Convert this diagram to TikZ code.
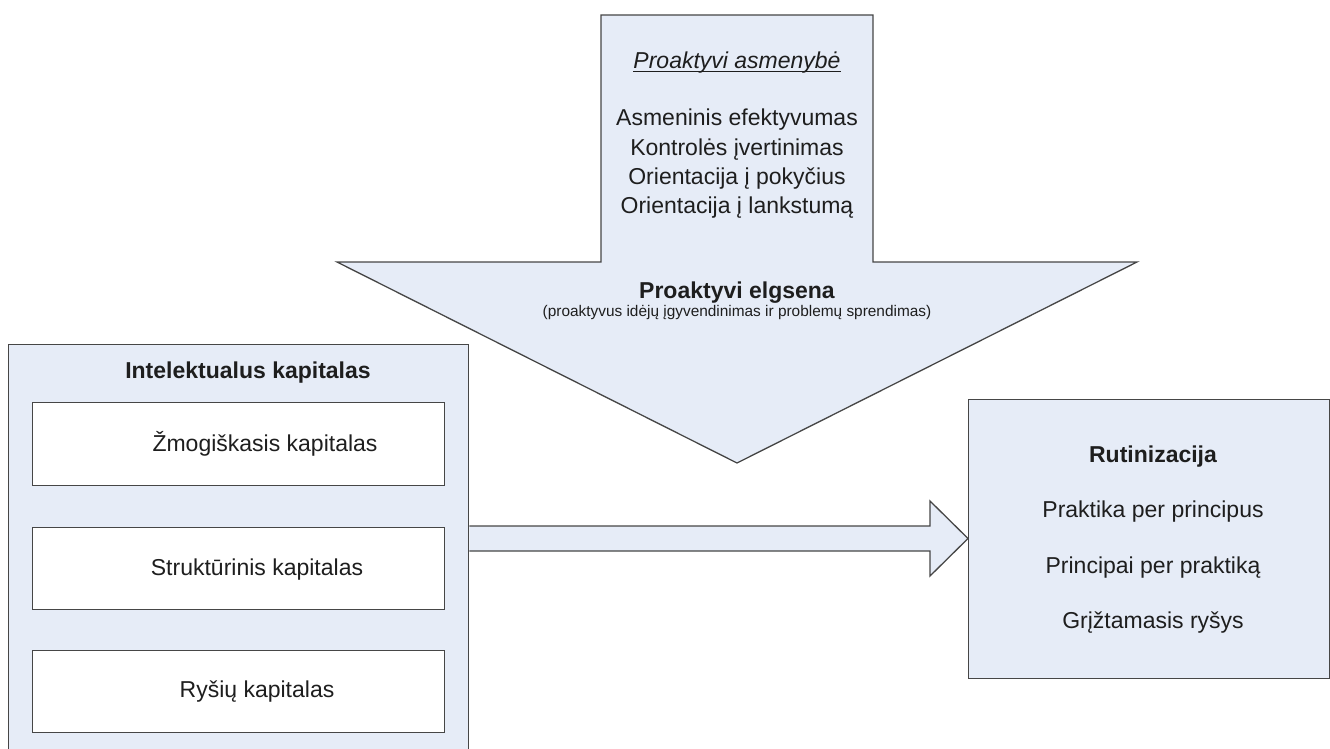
\documentclass[tikz,border=0pt]{standalone}
\usepackage{fontspec}
\setmainfont{Liberation Sans}
\usetikzlibrary{calc}
\definecolor{boxfill}{RGB}{230,236,247}
\definecolor{boxline}{RGB}{70,70,70}
\definecolor{ink}{RGB}{30,30,30}
\tikzset{
  panel/.style={draw=boxline, fill=boxfill, line width=1.3pt, inner sep=0pt, anchor=north west},
  subpanel/.style={draw=boxline, fill=white, line width=1.3pt, inner sep=0pt, anchor=north west},
  shapeline/.style={draw=boxline, fill=boxfill, line width=1.3pt, line join=miter},
  txt/.style={text=ink, inner sep=0pt, anchor=base, font=\fontsize{23}{28}\selectfont},
  smalltxt/.style={text=ink, inner sep=0pt, anchor=base, font=\fontsize{15.4}{18}\selectfont},
}
\begin{document}
\begin{tikzpicture}[x=1pt, y=-1pt]
\useasboundingbox (0,0) rectangle (1330,749);

% big downward arrow
\draw[shapeline] (601,15) -- (873,15) -- (873,262) -- (1137,262) -- (737,463)
  -- (337,262) -- (601,262) -- cycle;

\node[txt, font=\fontsize{23}{28}\selectfont\itshape] (pa) at (737,69) {Proaktyvi asmenybė};
\draw[draw=ink, line width=1pt] ([yshift=-2.5pt]pa.base west) -- ([yshift=-2.5pt]pa.base east);
\node[txt] (l1) at (737,126) {Asmeninis efektyvumas};
\node[txt] (l2) at (737,155) {Kontrolės įvertinimas};
\node[txt] (l3) at (737,184) {Orientacija į pokyčius};
\node[txt] (l4) at (737,213) {Orientacija į lankstumą};
\node[txt, font=\fontsize{23}{28}\selectfont\bfseries] (pe) at (737,298) {Proaktyvi elgsena};
\node[smalltxt] (pd) at (737,316) {(proaktyvus idėjų įgyvendinimas ir problemų sprendimas)};

% left panel with its three parts
\node[panel, minimum width=460pt, minimum height=420pt] (ic) at (8,344) {};
\node[txt, font=\fontsize{23}{28}\selectfont\bfseries] (ict) at (248,378) {Intelektualus kapitalas};
\node[subpanel, minimum width=412pt, minimum height=83pt] (hc) at (32,402) {};
\node[subpanel, minimum width=412pt, minimum height=82pt] (sc) at (32,526.5) {};
\node[subpanel, minimum width=412pt, minimum height=82pt] (rc) at (32,650) {};
\node[txt] (hct) at (265,451) {Žmogiškasis kapitalas};
\node[txt] (sct) at (257,575) {Struktūrinis kapitalas};
\node[txt] (rct) at (257,697) {Ryšių kapitalas};

% right panel
\node[panel, minimum width=361pt, minimum height=279pt] (rt) at (968,399) {};
\node[txt, font=\fontsize{23}{28}\selectfont\bfseries] (rtt) at (1153,462) {Rutinizacija};
\node[txt] (r1) at (1153,517) {Praktika per principus};
\node[txt] (r2) at (1153,573) {Principai per praktiką};
\node[txt] (r3) at (1153,628) {Grįžtamasis ryšys};

% block arrow from the left panel to the right panel
\coordinate (hs) at (ic.east |- 0,538.5);
\coordinate (he) at (rt.west |- hs);
\draw[shapeline]
  ([yshift=12.5pt]hs) -- ([xshift=-38pt,yshift=12.5pt]he) -- ([xshift=-38pt,yshift=37.5pt]he)
  -- (he) -- ([xshift=-38pt,yshift=-37.5pt]he) -- ([xshift=-38pt,yshift=-12.5pt]he)
  -- ([yshift=-12.5pt]hs);
\end{tikzpicture}
\end{document}
